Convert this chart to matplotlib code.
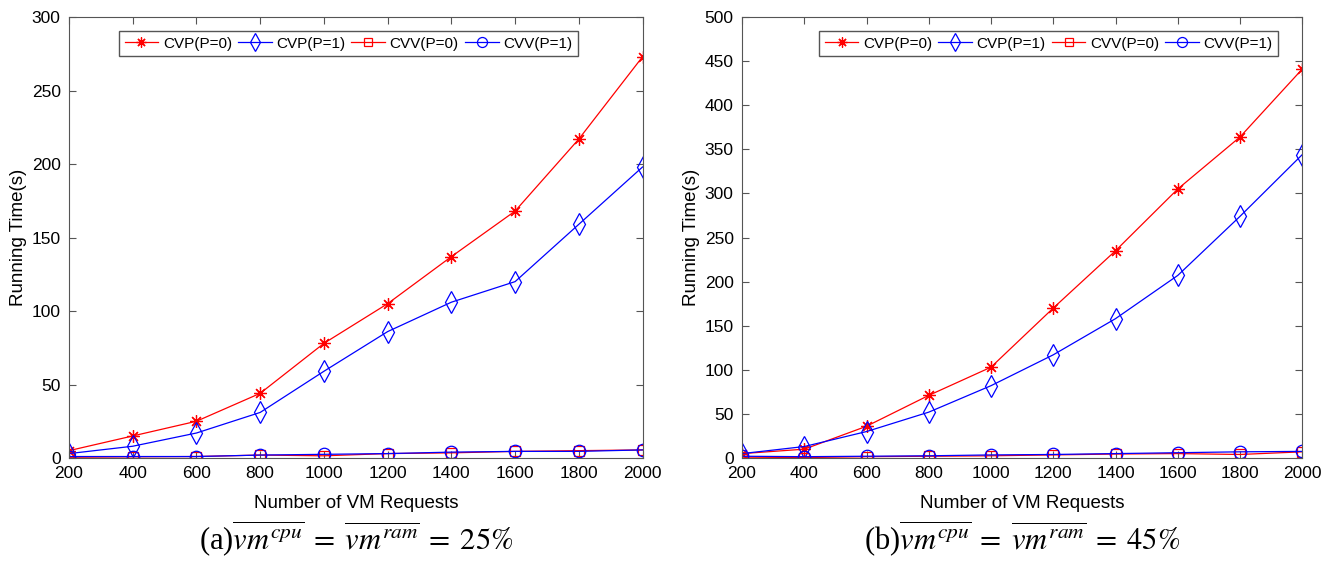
import numpy as np
import matplotlib.pyplot as plt

plt.rcParams['font.family'] = ['Liberation Sans', 'DejaVu Sans']
plt.rcParams['mathtext.fontset'] = 'stix'

x = [200, 400, 600, 800, 1000, 1200, 1400, 1600, 1800, 2000]

# (a) 25%
cvp0_a = [5, 15, 25, 44, 78, 105, 137, 168, 217, 273]
cvp1_a = [3, 8, 17, 31, 59, 86, 106, 120, 159, 198]
cvv0_a = [0.5, 0.8, 1, 2, 1.5, 3, 3.5, 4.5, 5, 5.5]
cvv1_a = [1, 1, 1, 2, 2.5, 3, 4, 4.5, 4.5, 5.5]

# (b) 45%
cvp0_b = [5, 10, 36, 71, 103, 170, 235, 305, 364, 441]
cvp1_b = [5, 13, 30, 52, 82, 117, 158, 207, 274, 344]
cvv0_b = [1, 0.5, 1.5, 2, 2.5, 3.5, 4.5, 5, 4, 7]
cvv1_b = [2, 1.5, 2, 2.5, 3.5, 4, 5, 6, 7, 7.5]

labels = ['CVP(P=0)', 'CVP(P=1)', 'CVV(P=0)', 'CVV(P=1)']
captions = [r'(a)$\overline{vm^{cpu}}\;=\;\overline{vm^{ram}}\;=\;25\%$',
            r'(b)$\overline{vm^{cpu}}\;=\;\overline{vm^{ram}}\;=\;45\%$']

fig = plt.figure(figsize=(13.37, 5.61), dpi=100)
ax1 = fig.add_axes([0.0516, 0.1836, 0.429, 0.786])
ax2 = fig.add_axes([0.555, 0.1836, 0.419, 0.786])


def draw(ax, series, ymax, yticks, caption):
    styles = [('r', (8, 2, 0), 9), ('b', 'd', 11), ('r', 's', 7), ('b', 'o', 9)]
    for ys, lab, (c, m, ms) in zip(series, labels, styles):
        ax.plot(x, ys, '-', color=c, marker=m, markersize=ms, linewidth=0.9,
                markerfacecolor='none', markeredgewidth=0.9, label=lab)
    ax.set_xlim(200, 2000)
    ax.set_ylim(0, ymax)
    ax.set_xticks(x)
    ax.set_yticks(yticks)
    ax.tick_params(direction='in', top=True, right=True, labelsize=12.5,
                   length=5, color='#555555', pad=6)
    for s in ax.spines.values():
        s.set_color('#555555')
    ax.set_xlabel('Number of VM Requests', fontsize=13.5, labelpad=10)
    ax.set_ylabel('Running Time(s)', fontsize=13.5, labelpad=3)
    leg = ax.legend(ncol=4, loc='upper right', bbox_to_anchor=(0.9, 0.985),
                    fontsize=11, fancybox=False, framealpha=1,
                    handlelength=2.2, columnspacing=0.4, handletextpad=0.3,
                    borderpad=0.35, markerscale=0.8)
    leg.get_frame().set_edgecolor('#555555')
    ax.text(0.5, -0.182, caption, transform=ax.transAxes, ha='center',
            va='center', fontsize=22, family='Liberation Serif')


draw(ax1, [cvp0_a, cvp1_a, cvv0_a, cvv1_a], 300, range(0, 301, 50), captions[0])
draw(ax2, [cvp0_b, cvp1_b, cvv0_b, cvv1_b], 500, range(0, 501, 50), captions[1])
ax2.legend_.set_bbox_to_anchor((0.97, 0.985))

fig.savefig('out.png', dpi=100)
